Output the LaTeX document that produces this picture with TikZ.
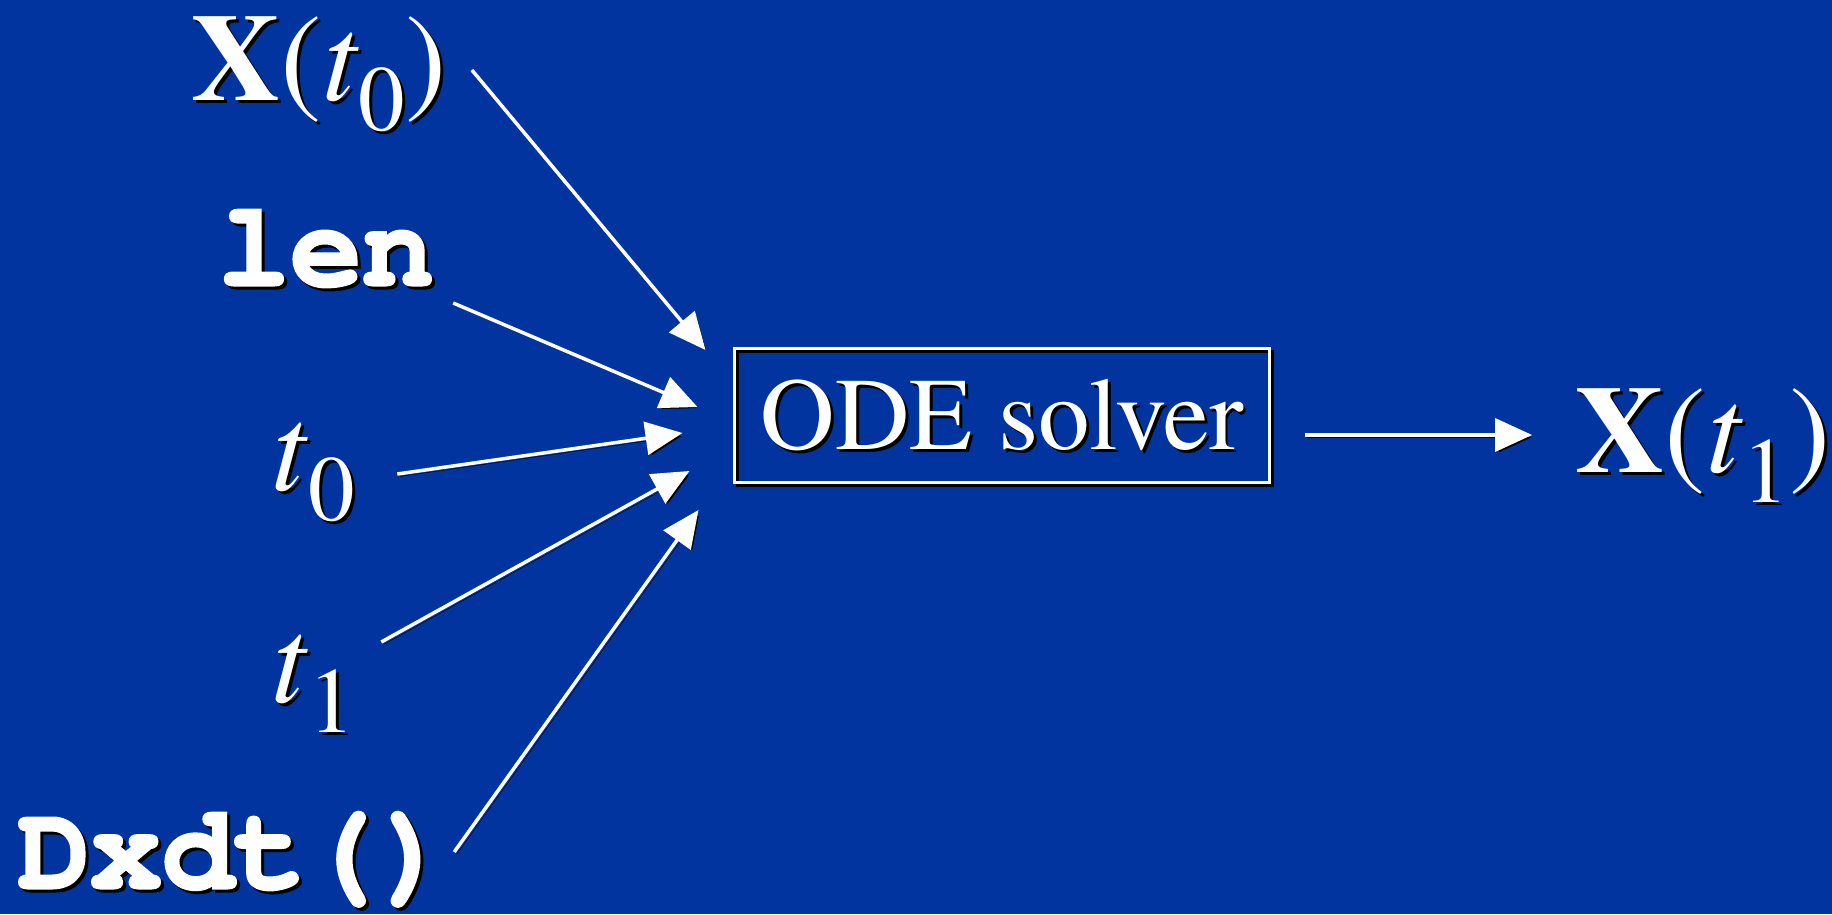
\documentclass[tikz,border=0pt]{standalone}
\usepackage{fontspec}
\setmainfont{texgyretermes}[Extension=.otf, UprightFont=*-regular, BoldFont=*-bold, ItalicFont=*-italic, BoldItalicFont=*-bolditalic]
\setmonofont{texgyrecursor}[Extension=.otf, UprightFont=*-regular, BoldFont=*-bold, BoldFeatures={FakeBold=2.5}, ItalicFont=*-italic, BoldItalicFont=*-bolditalic]
\usetikzlibrary{arrows.meta,calc}
\definecolor{bg}{RGB}{2,52,160}
\newcommand{\shd}[1]{\makebox[0pt][l]{\raisebox{-3pt}[0pt][0pt]{\hspace*{3pt}\textcolor{black}{#1}}}#1}
\newcommand{\subz}[1]{\raisebox{-30pt}{\fontsize{93}{93}\selectfont #1}}
\tikzset{
  lbl/.style={text=white, inner sep=0pt, anchor=base, font=\fontsize{124}{124}\selectfont},
  mono/.style={text=white, inner sep=0pt, anchor=base, font=\fontsize{120}{120}\selectfont\ttfamily\bfseries},
  arr/.style={draw=white, line width=3.5pt, -{Triangle[length=37pt,width=33pt]},
    preaction={draw=black, transform canvas={shift={(2.5pt,-2.5pt)}}}},
  boxnode/.style={draw=white, line width=3pt, text=white, inner sep=0pt,
    minimum width=535pt, minimum height=134pt, font=\fontsize{103}{103}\selectfont,
    preaction={draw=black, transform canvas={shift={(3pt,-3pt)}}}}
}
\begin{document}
\begin{tikzpicture}[x=1pt,y=-1pt]
\fill[bg] (0,0) rectangle (1832,914);
\useasboundingbox (0,0) rectangle (1832,914);
\node[lbl] (x0) at (319,100) {\shd{\textbf{X}(\textit{t}\subz{0})}};
\node[mono] (len) at (326,285) {\shd{len}};
\node[lbl] (t0) at (313,490) {\shd{\textit{t}\subz{0}}};
\node[lbl] (t1) at (313,702) {\shd{\textit{t}\subz{1}}};
\node[mono] (dx) at (234,888) {\shd{Dxdt()}};
\node[boxnode] (solver) at (1002,415) {\shd{ODE solver}};
\node[lbl] (x1) at (1703,472) {\shd{\textbf{X}(\textit{t}\subz{1})}};
\draw[arr] ($(x0.base east)+(25,-30)$) -- ($(solver.west)+(-27.5,-65)$);
\draw[arr] ($(len.base east)+(19,18)$) -- ($(solver.west)+(-35.5,-8)$);
\draw[arr] ($(t0.base east)+(42.5,-16)$) -- ($(solver.west)+(-50.5,18)$);
\draw[arr] ($(t1.base east)+(26.5,-60)$) -- ($(solver.west)+(-43.5,56)$);
\draw[arr] ($(dx.base east)+(4,-36)$) -- ($(solver.west)+(-34.5,95)$);
\draw[arr] ($(solver.east)+(33.5,20)$) -- ($(x1.base west)+(-43,-37)$);
\end{tikzpicture}
\end{document}
